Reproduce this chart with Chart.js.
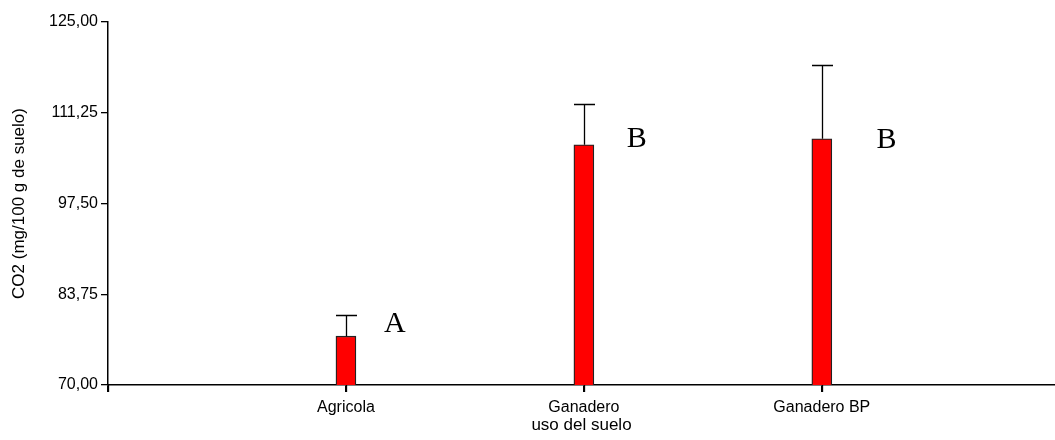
<!DOCTYPE html>
<html>
<head>
<meta charset="utf-8">
<script src="https://cdn.jsdelivr.net/npm/chart.js@4.4.1/dist/chart.umd.min.js"></script>
<style>
  html, body { margin: 0; padding: 0; background: #ffffff; }
  #wrap { width: 1055px; height: 440px; position: relative; }
</style>
</head>
<body>
<div id="wrap"><canvas id="c" width="1055" height="440"></canvas></div>
<script>
// ---- data ----
const categories = ['Agricola', 'Ganadero', 'Ganadero BP'];
const means = [77.4, 106.4, 107.3];
const errorTops = [80.6, 112.6, 118.5];
const groupLetters = ['A', 'B', 'B'];
const yTicks = [70, 83.75, 97.5, 111.25, 125];
const yTitle = 'CO2 (mg/100 g de suelo)';
const xTitle = 'uso del suelo';

// annotation anchors for the letters (value space: x position, baseline value)
const letterAnchorX = [1.16, 2.18, 3.23];
const letterAnchorY = [78.0, 106.0, 105.9];

const FONT = 'Liberation Sans, Arial, sans-serif';

const errorBarPlugin = {
  id: 'errorBars',
  afterDatasetsDraw(chart) {
    const ctx = chart.ctx;
    const xs = chart.scales.x, ys = chart.scales.y;
    ctx.save();
    ctx.strokeStyle = '#000';
    ctx.lineWidth = 1.3;
    const half = 10.5;
    for (let i = 0; i < means.length; i++) {
      const x = Math.round(xs.getPixelForValue(i + 1)) + 0.5;
      const y0 = ys.getPixelForValue(means[i]);
      const y1 = Math.round(ys.getPixelForValue(errorTops[i])) + 0.5;
      ctx.beginPath();
      ctx.moveTo(x, y0);
      ctx.lineTo(x, y1);
      ctx.moveTo(x - half, y1);
      ctx.lineTo(x + half, y1);
      ctx.stroke();
    }
    // category tick marks below the x axis
    const base = ys.getPixelForValue(ys.min);
    ctx.beginPath();
    for (let i = 0; i <= categories.length; i++) {
      const x = Math.round(xs.getPixelForValue(i)) + 0.5;
      ctx.moveTo(x, base);
      ctx.lineTo(x, base + 7);
    }
    ctx.stroke();
    // group letters
    ctx.fillStyle = '#000';
    ctx.font = '30px "Liberation Serif", "Times New Roman", serif';
    ctx.textAlign = 'left';
    ctx.textBaseline = 'alphabetic';
    for (let i = 0; i < groupLetters.length; i++) {
      ctx.fillText(groupLetters[i], xs.getPixelForValue(letterAnchorX[i]), ys.getPixelForValue(letterAnchorY[i]));
    }
    ctx.restore();
  }
};

new Chart(document.getElementById('c'), {
  type: 'bar',
  data: {
    datasets: [{
      data: means.map((v, i) => ({ x: i + 1, y: v })),
      backgroundColor: '#ff0000',
      borderColor: '#222222',
      borderWidth: 1.3,
      borderSkipped: 'bottom',
      barThickness: 20
    }]
  },
  options: {
    responsive: false,
    animation: false,
    devicePixelRatio: 1,
    layout: { padding: { top: 22, left: 0, right: 0, bottom: 0 } },
    plugins: { legend: { display: false }, tooltip: { enabled: false } },
    scales: {
      x: {
        type: 'linear',
        min: 0,
        max: 3.98,
        offset: false,
        afterBuildTicks(scale) {
          scale.ticks = [0, 1, 2, 3].map(v => ({ value: v }));
        },
        afterFit(scale) { scale.height = 55; },
        ticks: {
          color: '#000',
          font: { family: FONT, size: 16 },
          padding: 6,
          maxRotation: 0,
          autoSkip: false,
          callback: (v) => (v >= 1 && v <= categories.length ? categories[v - 1] : '')
        },
        grid: { offset: false, drawOnChartArea: false, drawTicks: true, tickLength: 7, color: '#000', lineWidth: 1.3 },
        border: { display: true, color: '#000', width: 1.5 },
        title: { display: true, text: xTitle, color: '#000', font: { family: FONT, size: 17 }, padding: { top: 0, bottom: 4 } }
      },
      y: {
        type: 'linear',
        min: 70,
        max: 125,
        afterBuildTicks(scale) {
          scale.ticks = yTicks.map(v => ({ value: v }));
        },
        afterFit(scale) { scale.width = 108; },
        ticks: {
          color: '#000',
          font: { family: FONT, size: 16 },
          padding: 3,
          callback: (v) => Number(v).toFixed(2).replace('.', ',')
        },
        grid: { drawOnChartArea: false, drawTicks: true, tickLength: 7, color: '#000', lineWidth: 1.3 },
        border: { display: true, color: '#000', width: 1.5 },
        title: { display: true, text: yTitle, color: '#000', font: { family: FONT, size: 17 }, padding: { top: 9, bottom: 0 } }
      }
    }
  },
  plugins: [errorBarPlugin]
});
</script>
</body>
</html>
